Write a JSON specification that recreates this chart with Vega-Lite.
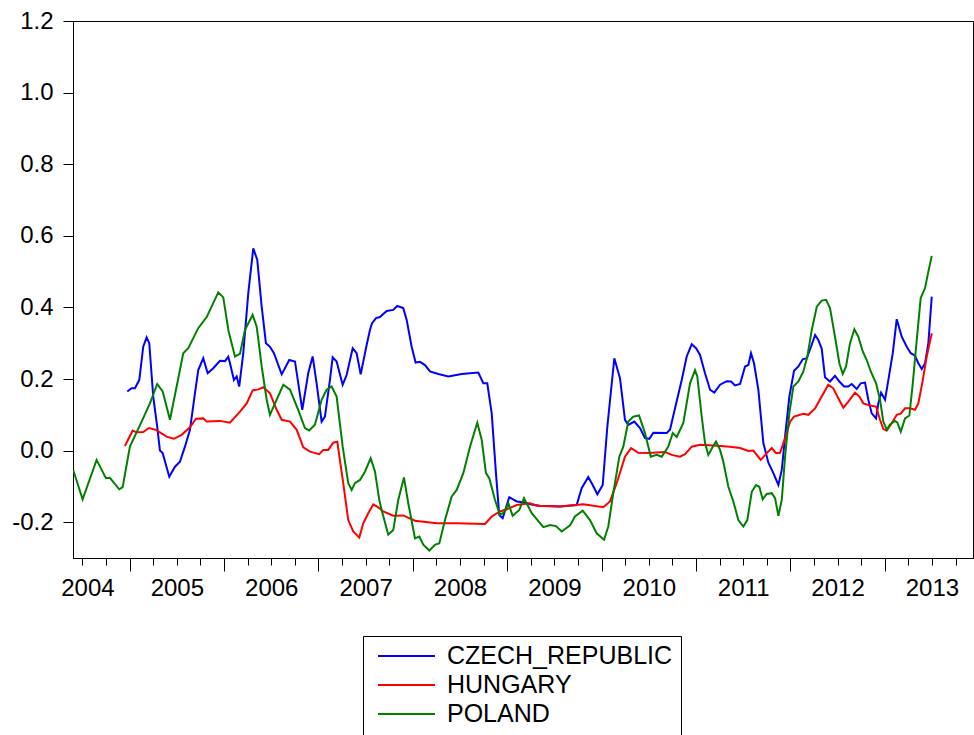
{
  "$schema": "https://vega.github.io/schema/vega-lite/v6.json",
  "autosize": "none",
  "width": 900,
  "height": 537,
  "padding": {"left": 73, "top": 21, "right": 1, "bottom": 177},
  "background": "white",
  "config": {
    "view": {"stroke": "black", "strokeWidth": 1},
    "axis": {"grid": false, "domainColor": "black", "tickColor": "black", "labelColor": "black", "labelFont": "Liberation Sans", "labelFontSize": 24, "domainWidth": 1, "tickWidth": 1}
  },
  "datasets": {
    "series": [
      {"t":2004.975,"v":0.165,"c":"CZECH_REPUBLIC"},{"t":2005.021,"v":0.174,"c":"CZECH_REPUBLIC"},{"t":2005.056,"v":0.174,"c":"CZECH_REPUBLIC"},{"t":2005.102,"v":0.197,"c":"CZECH_REPUBLIC"},{"t":2005.144,"v":0.29,"c":"CZECH_REPUBLIC"},{"t":2005.18,"v":0.316,"c":"CZECH_REPUBLIC"},{"t":2005.208,"v":0.3,"c":"CZECH_REPUBLIC"},{"t":2005.25,"v":0.151,"c":"CZECH_REPUBLIC"},{"t":2005.292,"v":0.067,"c":"CZECH_REPUBLIC"},{"t":2005.321,"v":0.0,"c":"CZECH_REPUBLIC"},{"t":2005.35,"v":-0.007,"c":"CZECH_REPUBLIC"},{"t":2005.42,"v":-0.073,"c":"CZECH_REPUBLIC"},{"t":2005.48,"v":-0.045,"c":"CZECH_REPUBLIC"},{"t":2005.533,"v":-0.031,"c":"CZECH_REPUBLIC"},{"t":2005.586,"v":0.011,"c":"CZECH_REPUBLIC"},{"t":2005.639,"v":0.058,"c":"CZECH_REPUBLIC"},{"t":2005.692,"v":0.16,"c":"CZECH_REPUBLIC"},{"t":2005.727,"v":0.225,"c":"CZECH_REPUBLIC"},{"t":2005.78,"v":0.258,"c":"CZECH_REPUBLIC"},{"t":2005.827,"v":0.216,"c":"CZECH_REPUBLIC"},{"t":2005.886,"v":0.23,"c":"CZECH_REPUBLIC"},{"t":2005.957,"v":0.251,"c":"CZECH_REPUBLIC"},{"t":2006.01,"v":0.25,"c":"CZECH_REPUBLIC"},{"t":2006.045,"v":0.262,"c":"CZECH_REPUBLIC"},{"t":2006.063,"v":0.244,"c":"CZECH_REPUBLIC"},{"t":2006.105,"v":0.197,"c":"CZECH_REPUBLIC"},{"t":2006.134,"v":0.207,"c":"CZECH_REPUBLIC"},{"t":2006.161,"v":0.179,"c":"CZECH_REPUBLIC"},{"t":2006.204,"v":0.272,"c":"CZECH_REPUBLIC"},{"t":2006.257,"v":0.44,"c":"CZECH_REPUBLIC"},{"t":2006.31,"v":0.565,"c":"CZECH_REPUBLIC"},{"t":2006.352,"v":0.533,"c":"CZECH_REPUBLIC"},{"t":2006.399,"v":0.402,"c":"CZECH_REPUBLIC"},{"t":2006.444,"v":0.3,"c":"CZECH_REPUBLIC"},{"t":2006.487,"v":0.29,"c":"CZECH_REPUBLIC"},{"t":2006.529,"v":0.272,"c":"CZECH_REPUBLIC"},{"t":2006.611,"v":0.213,"c":"CZECH_REPUBLIC"},{"t":2006.691,"v":0.253,"c":"CZECH_REPUBLIC"},{"t":2006.752,"v":0.249,"c":"CZECH_REPUBLIC"},{"t":2006.829,"v":0.114,"c":"CZECH_REPUBLIC"},{"t":2006.892,"v":0.216,"c":"CZECH_REPUBLIC"},{"t":2006.939,"v":0.263,"c":"CZECH_REPUBLIC"},{"t":2006.981,"v":0.188,"c":"CZECH_REPUBLIC"},{"t":2007.034,"v":0.081,"c":"CZECH_REPUBLIC"},{"t":2007.069,"v":0.095,"c":"CZECH_REPUBLIC"},{"t":2007.122,"v":0.197,"c":"CZECH_REPUBLIC"},{"t":2007.151,"v":0.261,"c":"CZECH_REPUBLIC"},{"t":2007.193,"v":0.249,"c":"CZECH_REPUBLIC"},{"t":2007.257,"v":0.184,"c":"CZECH_REPUBLIC"},{"t":2007.299,"v":0.211,"c":"CZECH_REPUBLIC"},{"t":2007.363,"v":0.286,"c":"CZECH_REPUBLIC"},{"t":2007.405,"v":0.272,"c":"CZECH_REPUBLIC"},{"t":2007.448,"v":0.213,"c":"CZECH_REPUBLIC"},{"t":2007.511,"v":0.295,"c":"CZECH_REPUBLIC"},{"t":2007.546,"v":0.337,"c":"CZECH_REPUBLIC"},{"t":2007.567,"v":0.355,"c":"CZECH_REPUBLIC"},{"t":2007.61,"v":0.37,"c":"CZECH_REPUBLIC"},{"t":2007.652,"v":0.373,"c":"CZECH_REPUBLIC"},{"t":2007.723,"v":0.39,"c":"CZECH_REPUBLIC"},{"t":2007.793,"v":0.393,"c":"CZECH_REPUBLIC"},{"t":2007.835,"v":0.404,"c":"CZECH_REPUBLIC"},{"t":2007.899,"v":0.398,"c":"CZECH_REPUBLIC"},{"t":2007.935,"v":0.365,"c":"CZECH_REPUBLIC"},{"t":2007.988,"v":0.29,"c":"CZECH_REPUBLIC"},{"t":2008.03,"v":0.246,"c":"CZECH_REPUBLIC"},{"t":2008.076,"v":0.248,"c":"CZECH_REPUBLIC"},{"t":2008.129,"v":0.239,"c":"CZECH_REPUBLIC"},{"t":2008.182,"v":0.221,"c":"CZECH_REPUBLIC"},{"t":2008.27,"v":0.214,"c":"CZECH_REPUBLIC"},{"t":2008.376,"v":0.207,"c":"CZECH_REPUBLIC"},{"t":2008.518,"v":0.214,"c":"CZECH_REPUBLIC"},{"t":2008.606,"v":0.216,"c":"CZECH_REPUBLIC"},{"t":2008.694,"v":0.218,"c":"CZECH_REPUBLIC"},{"t":2008.747,"v":0.188,"c":"CZECH_REPUBLIC"},{"t":2008.789,"v":0.188,"c":"CZECH_REPUBLIC"},{"t":2008.836,"v":0.104,"c":"CZECH_REPUBLIC"},{"t":2008.881,"v":-0.063,"c":"CZECH_REPUBLIC"},{"t":2008.916,"v":-0.18,"c":"CZECH_REPUBLIC"},{"t":2008.952,"v":-0.189,"c":"CZECH_REPUBLIC"},{"t":2009.022,"v":-0.13,"c":"CZECH_REPUBLIC"},{"t":2009.101,"v":-0.142,"c":"CZECH_REPUBLIC"},{"t":2009.189,"v":-0.145,"c":"CZECH_REPUBLIC"},{"t":2009.242,"v":-0.15,"c":"CZECH_REPUBLIC"},{"t":2009.348,"v":-0.154,"c":"CZECH_REPUBLIC"},{"t":2009.56,"v":-0.156,"c":"CZECH_REPUBLIC"},{"t":2009.736,"v":-0.152,"c":"CZECH_REPUBLIC"},{"t":2009.789,"v":-0.105,"c":"CZECH_REPUBLIC"},{"t":2009.859,"v":-0.074,"c":"CZECH_REPUBLIC"},{"t":2009.906,"v":-0.096,"c":"CZECH_REPUBLIC"},{"t":2009.955,"v":-0.122,"c":"CZECH_REPUBLIC"},{"t":2010.012,"v":-0.096,"c":"CZECH_REPUBLIC"},{"t":2010.061,"v":0.067,"c":"CZECH_REPUBLIC"},{"t":2010.135,"v":0.258,"c":"CZECH_REPUBLIC"},{"t":2010.195,"v":0.202,"c":"CZECH_REPUBLIC"},{"t":2010.248,"v":0.086,"c":"CZECH_REPUBLIC"},{"t":2010.283,"v":0.072,"c":"CZECH_REPUBLIC"},{"t":2010.347,"v":0.081,"c":"CZECH_REPUBLIC"},{"t":2010.407,"v":0.063,"c":"CZECH_REPUBLIC"},{"t":2010.46,"v":0.035,"c":"CZECH_REPUBLIC"},{"t":2010.506,"v":0.033,"c":"CZECH_REPUBLIC"},{"t":2010.548,"v":0.05,"c":"CZECH_REPUBLIC"},{"t":2010.69,"v":0.049,"c":"CZECH_REPUBLIC"},{"t":2010.725,"v":0.058,"c":"CZECH_REPUBLIC"},{"t":2010.767,"v":0.106,"c":"CZECH_REPUBLIC"},{"t":2010.849,"v":0.197,"c":"CZECH_REPUBLIC"},{"t":2010.902,"v":0.263,"c":"CZECH_REPUBLIC"},{"t":2010.955,"v":0.297,"c":"CZECH_REPUBLIC"},{"t":2011.001,"v":0.286,"c":"CZECH_REPUBLIC"},{"t":2011.043,"v":0.267,"c":"CZECH_REPUBLIC"},{"t":2011.096,"v":0.216,"c":"CZECH_REPUBLIC"},{"t":2011.149,"v":0.17,"c":"CZECH_REPUBLIC"},{"t":2011.194,"v":0.162,"c":"CZECH_REPUBLIC"},{"t":2011.255,"v":0.184,"c":"CZECH_REPUBLIC"},{"t":2011.326,"v":0.194,"c":"CZECH_REPUBLIC"},{"t":2011.371,"v":0.193,"c":"CZECH_REPUBLIC"},{"t":2011.414,"v":0.182,"c":"CZECH_REPUBLIC"},{"t":2011.467,"v":0.186,"c":"CZECH_REPUBLIC"},{"t":2011.52,"v":0.235,"c":"CZECH_REPUBLIC"},{"t":2011.555,"v":0.239,"c":"CZECH_REPUBLIC"},{"t":2011.583,"v":0.272,"c":"CZECH_REPUBLIC"},{"t":2011.615,"v":0.244,"c":"CZECH_REPUBLIC"},{"t":2011.661,"v":0.17,"c":"CZECH_REPUBLIC"},{"t":2011.714,"v":0.021,"c":"CZECH_REPUBLIC"},{"t":2011.767,"v":-0.034,"c":"CZECH_REPUBLIC"},{"t":2011.82,"v":-0.063,"c":"CZECH_REPUBLIC"},{"t":2011.873,"v":-0.096,"c":"CZECH_REPUBLIC"},{"t":2011.909,"v":-0.054,"c":"CZECH_REPUBLIC"},{"t":2011.944,"v":0.039,"c":"CZECH_REPUBLIC"},{"t":2011.989,"v":0.151,"c":"CZECH_REPUBLIC"},{"t":2012.039,"v":0.223,"c":"CZECH_REPUBLIC"},{"t":2012.085,"v":0.235,"c":"CZECH_REPUBLIC"},{"t":2012.131,"v":0.255,"c":"CZECH_REPUBLIC"},{"t":2012.174,"v":0.258,"c":"CZECH_REPUBLIC"},{"t":2012.219,"v":0.29,"c":"CZECH_REPUBLIC"},{"t":2012.262,"v":0.323,"c":"CZECH_REPUBLIC"},{"t":2012.296,"v":0.309,"c":"CZECH_REPUBLIC"},{"t":2012.332,"v":0.285,"c":"CZECH_REPUBLIC"},{"t":2012.367,"v":0.205,"c":"CZECH_REPUBLIC"},{"t":2012.42,"v":0.193,"c":"CZECH_REPUBLIC"},{"t":2012.473,"v":0.209,"c":"CZECH_REPUBLIC"},{"t":2012.519,"v":0.193,"c":"CZECH_REPUBLIC"},{"t":2012.569,"v":0.179,"c":"CZECH_REPUBLIC"},{"t":2012.614,"v":0.179,"c":"CZECH_REPUBLIC"},{"t":2012.65,"v":0.186,"c":"CZECH_REPUBLIC"},{"t":2012.703,"v":0.172,"c":"CZECH_REPUBLIC"},{"t":2012.746,"v":0.188,"c":"CZECH_REPUBLIC"},{"t":2012.791,"v":0.19,"c":"CZECH_REPUBLIC"},{"t":2012.826,"v":0.142,"c":"CZECH_REPUBLIC"},{"t":2012.862,"v":0.104,"c":"CZECH_REPUBLIC"},{"t":2012.908,"v":0.09,"c":"CZECH_REPUBLIC"},{"t":2012.932,"v":0.132,"c":"CZECH_REPUBLIC"},{"t":2012.961,"v":0.162,"c":"CZECH_REPUBLIC"},{"t":2013.003,"v":0.142,"c":"CZECH_REPUBLIC"},{"t":2013.038,"v":0.197,"c":"CZECH_REPUBLIC"},{"t":2013.085,"v":0.272,"c":"CZECH_REPUBLIC"},{"t":2013.127,"v":0.367,"c":"CZECH_REPUBLIC"},{"t":2013.18,"v":0.318,"c":"CZECH_REPUBLIC"},{"t":2013.233,"v":0.29,"c":"CZECH_REPUBLIC"},{"t":2013.276,"v":0.272,"c":"CZECH_REPUBLIC"},{"t":2013.321,"v":0.265,"c":"CZECH_REPUBLIC"},{"t":2013.356,"v":0.244,"c":"CZECH_REPUBLIC"},{"t":2013.392,"v":0.228,"c":"CZECH_REPUBLIC"},{"t":2013.427,"v":0.244,"c":"CZECH_REPUBLIC"},{"t":2013.462,"v":0.3,"c":"CZECH_REPUBLIC"},{"t":2013.498,"v":0.43,"c":"CZECH_REPUBLIC"},

      {"t":2004.95,"v":0.013,"c":"HUNGARY"},{"t":2005.032,"v":0.056,"c":"HUNGARY"},{"t":2005.074,"v":0.051,"c":"HUNGARY"},{"t":2005.144,"v":0.052,"c":"HUNGARY"},{"t":2005.205,"v":0.063,"c":"HUNGARY"},{"t":2005.279,"v":0.058,"c":"HUNGARY"},{"t":2005.392,"v":0.039,"c":"HUNGARY"},{"t":2005.469,"v":0.033,"c":"HUNGARY"},{"t":2005.551,"v":0.044,"c":"HUNGARY"},{"t":2005.639,"v":0.065,"c":"HUNGARY"},{"t":2005.703,"v":0.089,"c":"HUNGARY"},{"t":2005.78,"v":0.09,"c":"HUNGARY"},{"t":2005.816,"v":0.081,"c":"HUNGARY"},{"t":2005.957,"v":0.083,"c":"HUNGARY"},{"t":2006.063,"v":0.078,"c":"HUNGARY"},{"t":2006.169,"v":0.109,"c":"HUNGARY"},{"t":2006.24,"v":0.132,"c":"HUNGARY"},{"t":2006.303,"v":0.168,"c":"HUNGARY"},{"t":2006.363,"v":0.171,"c":"HUNGARY"},{"t":2006.416,"v":0.177,"c":"HUNGARY"},{"t":2006.487,"v":0.16,"c":"HUNGARY"},{"t":2006.558,"v":0.114,"c":"HUNGARY"},{"t":2006.611,"v":0.086,"c":"HUNGARY"},{"t":2006.699,"v":0.081,"c":"HUNGARY"},{"t":2006.77,"v":0.058,"c":"HUNGARY"},{"t":2006.84,"v":0.009,"c":"HUNGARY"},{"t":2006.911,"v":-0.003,"c":"HUNGARY"},{"t":2007.009,"v":-0.01,"c":"HUNGARY"},{"t":2007.051,"v":0.002,"c":"HUNGARY"},{"t":2007.104,"v":0.002,"c":"HUNGARY"},{"t":2007.157,"v":0.022,"c":"HUNGARY"},{"t":2007.2,"v":0.025,"c":"HUNGARY"},{"t":2007.263,"v":-0.091,"c":"HUNGARY"},{"t":2007.316,"v":-0.194,"c":"HUNGARY"},{"t":2007.369,"v":-0.226,"c":"HUNGARY"},{"t":2007.433,"v":-0.243,"c":"HUNGARY"},{"t":2007.475,"v":-0.203,"c":"HUNGARY"},{"t":2007.528,"v":-0.175,"c":"HUNGARY"},{"t":2007.581,"v":-0.15,"c":"HUNGARY"},{"t":2007.631,"v":-0.158,"c":"HUNGARY"},{"t":2007.687,"v":-0.17,"c":"HUNGARY"},{"t":2007.793,"v":-0.182,"c":"HUNGARY"},{"t":2007.899,"v":-0.181,"c":"HUNGARY"},{"t":2008.023,"v":-0.196,"c":"HUNGARY"},{"t":2008.253,"v":-0.203,"c":"HUNGARY"},{"t":2008.465,"v":-0.203,"c":"HUNGARY"},{"t":2008.765,"v":-0.205,"c":"HUNGARY"},{"t":2008.836,"v":-0.184,"c":"HUNGARY"},{"t":2008.924,"v":-0.17,"c":"HUNGARY"},{"t":2008.995,"v":-0.164,"c":"HUNGARY"},{"t":2009.101,"v":-0.152,"c":"HUNGARY"},{"t":2009.242,"v":-0.147,"c":"HUNGARY"},{"t":2009.313,"v":-0.154,"c":"HUNGARY"},{"t":2009.56,"v":-0.156,"c":"HUNGARY"},{"t":2009.806,"v":-0.15,"c":"HUNGARY"},{"t":2010.018,"v":-0.158,"c":"HUNGARY"},{"t":2010.089,"v":-0.142,"c":"HUNGARY"},{"t":2010.16,"v":-0.091,"c":"HUNGARY"},{"t":2010.248,"v":-0.017,"c":"HUNGARY"},{"t":2010.312,"v":0.007,"c":"HUNGARY"},{"t":2010.389,"v":-0.006,"c":"HUNGARY"},{"t":2010.495,"v":-0.007,"c":"HUNGARY"},{"t":2010.672,"v":-0.004,"c":"HUNGARY"},{"t":2010.743,"v":-0.012,"c":"HUNGARY"},{"t":2010.831,"v":-0.017,"c":"HUNGARY"},{"t":2010.884,"v":-0.01,"c":"HUNGARY"},{"t":2010.955,"v":0.011,"c":"HUNGARY"},{"t":2011.043,"v":0.016,"c":"HUNGARY"},{"t":2011.184,"v":0.014,"c":"HUNGARY"},{"t":2011.361,"v":0.011,"c":"HUNGARY"},{"t":2011.467,"v":0.007,"c":"HUNGARY"},{"t":2011.555,"v":-0.001,"c":"HUNGARY"},{"t":2011.608,"v":0.0,"c":"HUNGARY"},{"t":2011.686,"v":-0.026,"c":"HUNGARY"},{"t":2011.75,"v":-0.007,"c":"HUNGARY"},{"t":2011.803,"v":0.007,"c":"HUNGARY"},{"t":2011.848,"v":-0.007,"c":"HUNGARY"},{"t":2011.891,"v":-0.006,"c":"HUNGARY"},{"t":2011.944,"v":0.035,"c":"HUNGARY"},{"t":2011.997,"v":0.081,"c":"HUNGARY"},{"t":2012.039,"v":0.095,"c":"HUNGARY"},{"t":2012.138,"v":0.103,"c":"HUNGARY"},{"t":2012.191,"v":0.1,"c":"HUNGARY"},{"t":2012.262,"v":0.118,"c":"HUNGARY"},{"t":2012.332,"v":0.151,"c":"HUNGARY"},{"t":2012.402,"v":0.184,"c":"HUNGARY"},{"t":2012.455,"v":0.174,"c":"HUNGARY"},{"t":2012.508,"v":0.146,"c":"HUNGARY"},{"t":2012.561,"v":0.12,"c":"HUNGARY"},{"t":2012.614,"v":0.137,"c":"HUNGARY"},{"t":2012.685,"v":0.162,"c":"HUNGARY"},{"t":2012.731,"v":0.151,"c":"HUNGARY"},{"t":2012.773,"v":0.132,"c":"HUNGARY"},{"t":2012.844,"v":0.126,"c":"HUNGARY"},{"t":2012.908,"v":0.123,"c":"HUNGARY"},{"t":2012.95,"v":0.086,"c":"HUNGARY"},{"t":2012.985,"v":0.06,"c":"HUNGARY"},{"t":2013.021,"v":0.056,"c":"HUNGARY"},{"t":2013.064,"v":0.072,"c":"HUNGARY"},{"t":2013.127,"v":0.1,"c":"HUNGARY"},{"t":2013.17,"v":0.103,"c":"HUNGARY"},{"t":2013.215,"v":0.118,"c":"HUNGARY"},{"t":2013.268,"v":0.118,"c":"HUNGARY"},{"t":2013.321,"v":0.114,"c":"HUNGARY"},{"t":2013.356,"v":0.132,"c":"HUNGARY"},{"t":2013.403,"v":0.197,"c":"HUNGARY"},{"t":2013.445,"v":0.263,"c":"HUNGARY"},{"t":2013.498,"v":0.328,"c":"HUNGARY"},

      {"t":2004.402,"v":-0.054,"c":"POLAND"},{"t":2004.502,"v":-0.136,"c":"POLAND"},{"t":2004.65,"v":-0.026,"c":"POLAND"},{"t":2004.749,"v":-0.077,"c":"POLAND"},{"t":2004.791,"v":-0.076,"c":"POLAND"},{"t":2004.89,"v":-0.108,"c":"POLAND"},{"t":2004.926,"v":-0.102,"c":"POLAND"},{"t":2005.003,"v":0.011,"c":"POLAND"},{"t":2005.127,"v":0.081,"c":"POLAND"},{"t":2005.215,"v":0.132,"c":"POLAND"},{"t":2005.292,"v":0.186,"c":"POLAND"},{"t":2005.35,"v":0.165,"c":"POLAND"},{"t":2005.427,"v":0.086,"c":"POLAND"},{"t":2005.498,"v":0.179,"c":"POLAND"},{"t":2005.568,"v":0.272,"c":"POLAND"},{"t":2005.621,"v":0.286,"c":"POLAND"},{"t":2005.727,"v":0.342,"c":"POLAND"},{"t":2005.816,"v":0.373,"c":"POLAND"},{"t":2005.939,"v":0.442,"c":"POLAND"},{"t":2005.992,"v":0.428,"c":"POLAND"},{"t":2006.047,"v":0.335,"c":"POLAND"},{"t":2006.116,"v":0.263,"c":"POLAND"},{"t":2006.169,"v":0.27,"c":"POLAND"},{"t":2006.222,"v":0.337,"c":"POLAND"},{"t":2006.303,"v":0.379,"c":"POLAND"},{"t":2006.346,"v":0.346,"c":"POLAND"},{"t":2006.399,"v":0.235,"c":"POLAND"},{"t":2006.452,"v":0.142,"c":"POLAND"},{"t":2006.487,"v":0.1,"c":"POLAND"},{"t":2006.54,"v":0.132,"c":"POLAND"},{"t":2006.628,"v":0.184,"c":"POLAND"},{"t":2006.699,"v":0.17,"c":"POLAND"},{"t":2006.786,"v":0.114,"c":"POLAND"},{"t":2006.857,"v":0.063,"c":"POLAND"},{"t":2006.903,"v":0.056,"c":"POLAND"},{"t":2006.963,"v":0.072,"c":"POLAND"},{"t":2007.034,"v":0.142,"c":"POLAND"},{"t":2007.087,"v":0.17,"c":"POLAND"},{"t":2007.14,"v":0.179,"c":"POLAND"},{"t":2007.193,"v":0.151,"c":"POLAND"},{"t":2007.257,"v":0.011,"c":"POLAND"},{"t":2007.316,"v":-0.091,"c":"POLAND"},{"t":2007.352,"v":-0.11,"c":"POLAND"},{"t":2007.387,"v":-0.091,"c":"POLAND"},{"t":2007.44,"v":-0.082,"c":"POLAND"},{"t":2007.493,"v":-0.059,"c":"POLAND"},{"t":2007.554,"v":-0.021,"c":"POLAND"},{"t":2007.599,"v":-0.058,"c":"POLAND"},{"t":2007.645,"v":-0.138,"c":"POLAND"},{"t":2007.67,"v":-0.166,"c":"POLAND"},{"t":2007.74,"v":-0.235,"c":"POLAND"},{"t":2007.793,"v":-0.222,"c":"POLAND"},{"t":2007.846,"v":-0.138,"c":"POLAND"},{"t":2007.906,"v":-0.075,"c":"POLAND"},{"t":2007.952,"v":-0.147,"c":"POLAND"},{"t":2008.023,"v":-0.245,"c":"POLAND"},{"t":2008.069,"v":-0.24,"c":"POLAND"},{"t":2008.111,"v":-0.263,"c":"POLAND"},{"t":2008.175,"v":-0.279,"c":"POLAND"},{"t":2008.235,"v":-0.263,"c":"POLAND"},{"t":2008.281,"v":-0.259,"c":"POLAND"},{"t":2008.341,"v":-0.194,"c":"POLAND"},{"t":2008.412,"v":-0.128,"c":"POLAND"},{"t":2008.465,"v":-0.11,"c":"POLAND"},{"t":2008.535,"v":-0.063,"c":"POLAND"},{"t":2008.606,"v":0.011,"c":"POLAND"},{"t":2008.683,"v":0.078,"c":"POLAND"},{"t":2008.73,"v":0.03,"c":"POLAND"},{"t":2008.775,"v":-0.063,"c":"POLAND"},{"t":2008.81,"v":-0.077,"c":"POLAND"},{"t":2008.871,"v":-0.138,"c":"POLAND"},{"t":2008.924,"v":-0.18,"c":"POLAND"},{"t":2008.977,"v":-0.17,"c":"POLAND"},{"t":2009.012,"v":-0.147,"c":"POLAND"},{"t":2009.058,"v":-0.182,"c":"POLAND"},{"t":2009.128,"v":-0.166,"c":"POLAND"},{"t":2009.178,"v":-0.133,"c":"POLAND"},{"t":2009.26,"v":-0.175,"c":"POLAND"},{"t":2009.383,"v":-0.214,"c":"POLAND"},{"t":2009.454,"v":-0.208,"c":"POLAND"},{"t":2009.517,"v":-0.211,"c":"POLAND"},{"t":2009.578,"v":-0.226,"c":"POLAND"},{"t":2009.666,"v":-0.209,"c":"POLAND"},{"t":2009.718,"v":-0.184,"c":"POLAND"},{"t":2009.8,"v":-0.168,"c":"POLAND"},{"t":2009.877,"v":-0.194,"c":"POLAND"},{"t":2009.948,"v":-0.231,"c":"POLAND"},{"t":2010.026,"v":-0.249,"c":"POLAND"},{"t":2010.071,"v":-0.212,"c":"POLAND"},{"t":2010.124,"v":-0.119,"c":"POLAND"},{"t":2010.188,"v":-0.017,"c":"POLAND"},{"t":2010.23,"v":0.011,"c":"POLAND"},{"t":2010.283,"v":0.081,"c":"POLAND"},{"t":2010.336,"v":0.095,"c":"POLAND"},{"t":2010.397,"v":0.098,"c":"POLAND"},{"t":2010.46,"v":0.049,"c":"POLAND"},{"t":2010.521,"v":-0.017,"c":"POLAND"},{"t":2010.584,"v":-0.012,"c":"POLAND"},{"t":2010.637,"v":-0.017,"c":"POLAND"},{"t":2010.707,"v":0.011,"c":"POLAND"},{"t":2010.754,"v":0.049,"c":"POLAND"},{"t":2010.796,"v":0.038,"c":"POLAND"},{"t":2010.866,"v":0.077,"c":"POLAND"},{"t":2010.937,"v":0.188,"c":"POLAND"},{"t":2010.99,"v":0.225,"c":"POLAND"},{"t":2011.014,"v":0.207,"c":"POLAND"},{"t":2011.061,"v":0.095,"c":"POLAND"},{"t":2011.096,"v":0.021,"c":"POLAND"},{"t":2011.131,"v":-0.012,"c":"POLAND"},{"t":2011.178,"v":0.011,"c":"POLAND"},{"t":2011.212,"v":0.025,"c":"POLAND"},{"t":2011.255,"v":0.002,"c":"POLAND"},{"t":2011.29,"v":-0.031,"c":"POLAND"},{"t":2011.343,"v":-0.101,"c":"POLAND"},{"t":2011.396,"v":-0.142,"c":"POLAND"},{"t":2011.449,"v":-0.194,"c":"POLAND"},{"t":2011.502,"v":-0.212,"c":"POLAND"},{"t":2011.544,"v":-0.194,"c":"POLAND"},{"t":2011.591,"v":-0.115,"c":"POLAND"},{"t":2011.636,"v":-0.096,"c":"POLAND"},{"t":2011.671,"v":-0.101,"c":"POLAND"},{"t":2011.707,"v":-0.136,"c":"POLAND"},{"t":2011.75,"v":-0.121,"c":"POLAND"},{"t":2011.803,"v":-0.119,"c":"POLAND"},{"t":2011.838,"v":-0.133,"c":"POLAND"},{"t":2011.873,"v":-0.182,"c":"POLAND"},{"t":2011.909,"v":-0.138,"c":"POLAND"},{"t":2011.944,"v":-0.017,"c":"POLAND"},{"t":2011.989,"v":0.104,"c":"POLAND"},{"t":2012.032,"v":0.179,"c":"POLAND"},{"t":2012.085,"v":0.193,"c":"POLAND"},{"t":2012.138,"v":0.221,"c":"POLAND"},{"t":2012.18,"v":0.263,"c":"POLAND"},{"t":2012.227,"v":0.337,"c":"POLAND"},{"t":2012.28,"v":0.402,"c":"POLAND"},{"t":2012.332,"v":0.419,"c":"POLAND"},{"t":2012.378,"v":0.421,"c":"POLAND"},{"t":2012.42,"v":0.398,"c":"POLAND"},{"t":2012.473,"v":0.318,"c":"POLAND"},{"t":2012.519,"v":0.244,"c":"POLAND"},{"t":2012.555,"v":0.214,"c":"POLAND"},{"t":2012.59,"v":0.235,"c":"POLAND"},{"t":2012.632,"v":0.3,"c":"POLAND"},{"t":2012.678,"v":0.339,"c":"POLAND"},{"t":2012.72,"v":0.318,"c":"POLAND"},{"t":2012.767,"v":0.277,"c":"POLAND"},{"t":2012.809,"v":0.253,"c":"POLAND"},{"t":2012.852,"v":0.221,"c":"POLAND"},{"t":2012.908,"v":0.188,"c":"POLAND"},{"t":2012.95,"v":0.142,"c":"POLAND"},{"t":2012.985,"v":0.081,"c":"POLAND"},{"t":2013.021,"v":0.058,"c":"POLAND"},{"t":2013.056,"v":0.073,"c":"POLAND"},{"t":2013.109,"v":0.083,"c":"POLAND"},{"t":2013.133,"v":0.079,"c":"POLAND"},{"t":2013.17,"v":0.053,"c":"POLAND"},{"t":2013.215,"v":0.09,"c":"POLAND"},{"t":2013.261,"v":0.098,"c":"POLAND"},{"t":2013.297,"v":0.188,"c":"POLAND"},{"t":2013.339,"v":0.309,"c":"POLAND"},{"t":2013.381,"v":0.426,"c":"POLAND"},{"t":2013.427,"v":0.454,"c":"POLAND"},{"t":2013.462,"v":0.5,"c":"POLAND"},{"t":2013.498,"v":0.544,"c":"POLAND"}
    ]
  },
  "data": {"name": "series"},
  "mark": {"type": "line", "strokeWidth": 2, "clip": true},
  "encoding": {
    "x": {
      "field": "t",
      "type": "quantitative",
      "scale": {"domain": [2004.4, 2013.935], "nice": false, "zero": false},
      "axis": {
        "title": null,
        "values": [2004.5, 2004.75, 2005, 2005.25, 2005.5, 2005.75, 2006, 2006.25, 2006.5, 2006.75, 2007, 2007.25, 2007.5, 2007.75, 2008, 2008.25, 2008.5, 2008.75, 2009, 2009.25, 2009.5, 2009.75, 2010, 2010.25, 2010.5, 2010.75, 2011, 2011.25, 2011.5, 2011.75, 2012, 2012.25, 2012.5, 2012.75, 2013, 2013.25, 2013.5, 2013.75],
        "labelExpr": "(datum.value * 4) % 4 == 2 ? format(floor(datum.value), 'd') : ''",
        "tickSize": {"condition": {"test": "(datum.value * 4) % 4 == 0", "value": 13}, "value": 7},
        "labelOffset": {"condition": {"test": "datum.value == 2004.5", "value": 5}, "value": 0},
        "labelPadding": 11,
        "labelFlush": false,
        "labelOverlap": false,
        "labelBound": false
      }
    },
    "y": {
      "field": "v",
      "type": "quantitative",
      "scale": {"domain": [-0.3, 1.2], "nice": false, "zero": false},
      "axis": {
        "title": null,
        "values": [-0.2, 0, 0.2, 0.4, 0.6, 0.8, 1.0, 1.2],
        "labelExpr": "replace(format(datum.value, '.1f'), '\u2212', '-')",
        "tickSize": 10,
        "labelPadding": 10,
        "labelFlush": false,
        "labelOverlap": false
      }
    },
    "color": {
      "field": "c",
      "type": "nominal",
      "scale": {"domain": ["CZECH_REPUBLIC", "HUNGARY", "POLAND"], "range": ["#0000ff", "#ff0000", "#008000"]},
      "legend": {
        "orient": "none",
        "legendX": 290,
        "legendY": 615,
        "title": null,
        "direction": "vertical",
        "symbolType": "stroke",
        "symbolSize": 3249,
        "symbolStrokeWidth": 2,
        "clipHeight": 24,
        "rowPadding": 4,
        "padding": 8,
        "symbolOffset": 6,
        "labelOffset": 11,
        "labelFont": "Liberation Sans",
        "labelFontSize": 25,
        "labelColor": "black",
        "labelLimit": 500,
        "strokeColor": "black",
        "fillColor": "white"
      }
    }
  }
}
